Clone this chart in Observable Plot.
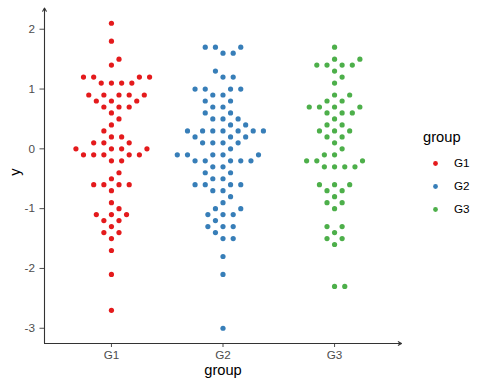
<!DOCTYPE html>
<html>
<head>
<meta charset="utf-8">
<script src="https://cdn.jsdelivr.net/npm/d3@7"></script>
<script src="https://cdn.jsdelivr.net/npm/@observablehq/plot@0.6"></script>
<style>
  body { margin: 0; background: #fff; font-family: "Liberation Sans", Arial, sans-serif; }
  #wrap { position: relative; width: 485px; height: 388px; overflow: hidden; }
  #main { position: absolute; left: 0; top: 0; }
  #legtitle { position: absolute; left: 423px; top: 130px; font-size: 14.7px; line-height: 1; color: #000; }
  #leg { position: absolute; left: 415px; top: 140px; }
</style>
</head>
<body>
<div id="wrap"><div id="main"></div><div id="legtitle">group</div><div id="leg"></div></div>
<script>
const groups = ["G1", "G2", "G3"];
const colors = ["#E41A1C", "#377EB8", "#4DAF4A"];
const yTicks = [-3, -2, -1, 0, 1, 2];

const g1 = [2.1, 1.8, 1.5, 1.4, 1.2, 1.2, 1.2, 1.2, 1.1, 1.1, 1.1, 1.1,
  0.9, 0.9, 0.9, 0.9, 0.9, 0.8, 0.8, 0.8, 0.7, 0.7, 0.7, 0.6, 0.5, 0.4, 0.3,
  0.2, 0.2, 0.1, 0.1, 0.1, 0.0, 0.0, 0.0, 0.0, -0.1, -0.1, -0.1, -0.1, -0.1,
  -0.2, -0.2, -0.4, -0.5, -0.6, -0.6, -0.6, -0.6, -0.7, -0.9, -1.0,
  -1.1, -1.1, -1.1, -1.2, -1.2, -1.3, -1.4, -1.4, -1.5, -1.7, -2.1, -2.7];
const g2 = [1.7, 1.7, 1.7, 1.6, 1.6, 1.3, 1.2, 1.2, 1.0, 1.0, 1.0, 1.0,
  0.9, 0.9, 0.8, 0.8, 0.7, 0.7, 0.6, 0.6, 0.5, 0.5, 0.5, 0.4, 0.4,
  0.3, 0.3, 0.3, 0.3, 0.3, 0.3, 0.3, 0.2, 0.2, 0.2, 0.1, 0.1, 0.1, 0.1, 0.0,
  -0.1, -0.1, -0.1, -0.1, -0.1, -0.2, -0.2, -0.2, -0.2, -0.2, -0.3, -0.3,
  -0.4, -0.4, -0.5, -0.5, -0.6, -0.6, -0.6, -0.6, -0.7, -0.7, -0.8, -0.9,
  -1.0, -1.0, -1.1, -1.1, -1.1, -1.2, -1.3, -1.3, -1.3, -1.4, -1.5, -1.5,
  -1.8, -2.1, -3.0];
const g3 = [1.7, 1.5, 1.5, 1.4, 1.4, 1.4, 1.4, 1.3, 1.2, 1.1, 0.9, 0.9,
  0.8, 0.8, 0.7, 0.7, 0.7, 0.7, 0.6, 0.6, 0.6, 0.5, 0.4, 0.4, 0.3, 0.3, 0.3,
  0.2, 0.2, 0.1, 0.0, -0.1, -0.1, -0.2, -0.2, -0.2, -0.3, -0.3, -0.3, -0.3,
  -0.6, -0.6, -0.6, -0.7, -0.7, -0.8, -0.9, -0.9, -1.0, -1.3, -1.3, -1.4,
  -1.5, -1.5, -1.6, -2.3, -2.3];
const series = [g1, g2, g3];

// layout
const W = 485, H = 388;
const mL = 44, mR = 84, mT = 7.5, mB = 45;
const all = series.flat();
const [lo, hi] = d3.extent(all);
const pad = (hi - lo) * 0.05;
const yMin = lo - pad, yMax = hi + pad;
const xMin = 0.4, xMax = groups.length + 0.6;
const kx = (W - mL - mR) / (xMax - xMin);
const ky = (H - mT - mB) / (yMax - yMin);

// beeswarm ("swarm", ascending priority), computed in pixels
const Dx = 10.2, Dy = 8.9;
function swarm(vals) {
  const idx = vals.map((v, i) => i).sort((a, b) => vals[a] - vals[b] || a - b);
  const placed = [];
  const off = new Array(vals.length).fill(0);
  for (const i of idx) {
    const py = vals[i] * ky;
    const near = placed.filter(p => Math.abs(p.py - py) < Dy);
    const cands = [0];
    for (const p of near) {
      const d = Dx * Math.sqrt(1 - ((p.py - py) / Dy) ** 2);
      cands.push(p.px + d, p.px - d);
    }
    const order = cands.map((c, k) => k).sort((a, b) =>
      Math.round(Math.abs(cands[a]) * 1e4) - Math.round(Math.abs(cands[b]) * 1e4) || a - b);
    let best = 0;
    for (const k of order) {
      const c = cands[k];
      if (near.every(p => ((c - p.px) / Dx) ** 2 + ((py - p.py) / Dy) ** 2 >= 0.999)) { best = c; break; }
    }
    placed.push({py, px: best});
    off[i] = best;
  }
  return off;
}

const data = [];
series.forEach((vals, gi) => {
  const off = swarm(vals);
  vals.forEach((v, i) => data.push({group: groups[gi], y: v, x: gi + 1 + off[i] / kx}));
});

const axisColor = "#333333";
const main = Plot.plot({
  width: W, height: H,
  marginLeft: mL, marginRight: mR, marginTop: mT, marginBottom: mB,
  style: {fontFamily: "'Liberation Sans', Arial, sans-serif", background: "#fff"},
  x: {type: "linear", domain: [xMin, xMax]},
  y: {domain: [yMin, yMax]},
  color: {type: "ordinal", domain: groups, range: colors},
  marks: [
    Plot.dot(data, {x: "x", y: "y", fill: "group", r: 2.6}),
    Plot.axisY({ticks: yTicks, tickFormat: d => String(d), tickSize: 4.5, tickPadding: 5, fontSize: 11.7, color: "#4D4D4D", label: null}),
    Plot.axisX({ticks: groups.map((g, i) => i + 1), tickFormat: d => groups[d - 1], tickSize: 4, tickPadding: 3, fontSize: 11.7, color: "#4D4D4D", label: null}),
    Plot.arrow([0], {x1: () => xMin, y1: () => yMin, x2: () => xMin, y2: () => yMax, stroke: axisColor, strokeWidth: 1.1, headLength: 5, headAngle: 60}),
    Plot.arrow([0], {x1: () => xMin, y1: () => yMin, x2: () => xMax, y2: () => yMin, stroke: axisColor, strokeWidth: 1.1, headLength: 5, headAngle: 60}),
    Plot.text(["y"], {frameAnchor: "left", dx: -29, rotate: -90, text: d => d, fontSize: 14.7, fill: "#000"}),
    Plot.text(["group"], {frameAnchor: "bottom", dy: 31, text: d => d, fontSize: 14.7, fill: "#000"})
  ]
});
document.getElementById("main").append(main);

const leg = Plot.plot({
  width: 70, height: 90, margin: 0,
  style: {fontFamily: "'Liberation Sans', Arial, sans-serif", background: "transparent"},
  x: {type: "linear", domain: [0, 1], range: [20, 38.5], axis: null},
  y: {type: "point", domain: groups, range: [23.3, 69.3], padding: 0, axis: null},
  color: {type: "ordinal", domain: groups, range: colors},
  marks: [
    Plot.dot(groups, {x: () => 0, y: d => d, fill: d => d, r: 2.4}),
    Plot.text(groups, {x: () => 1, y: d => d, text: d => d, textAnchor: "start", fontSize: 11.7, fill: "#000"})
  ]
});
document.getElementById("leg").append(leg);
</script>
</body>
</html>
